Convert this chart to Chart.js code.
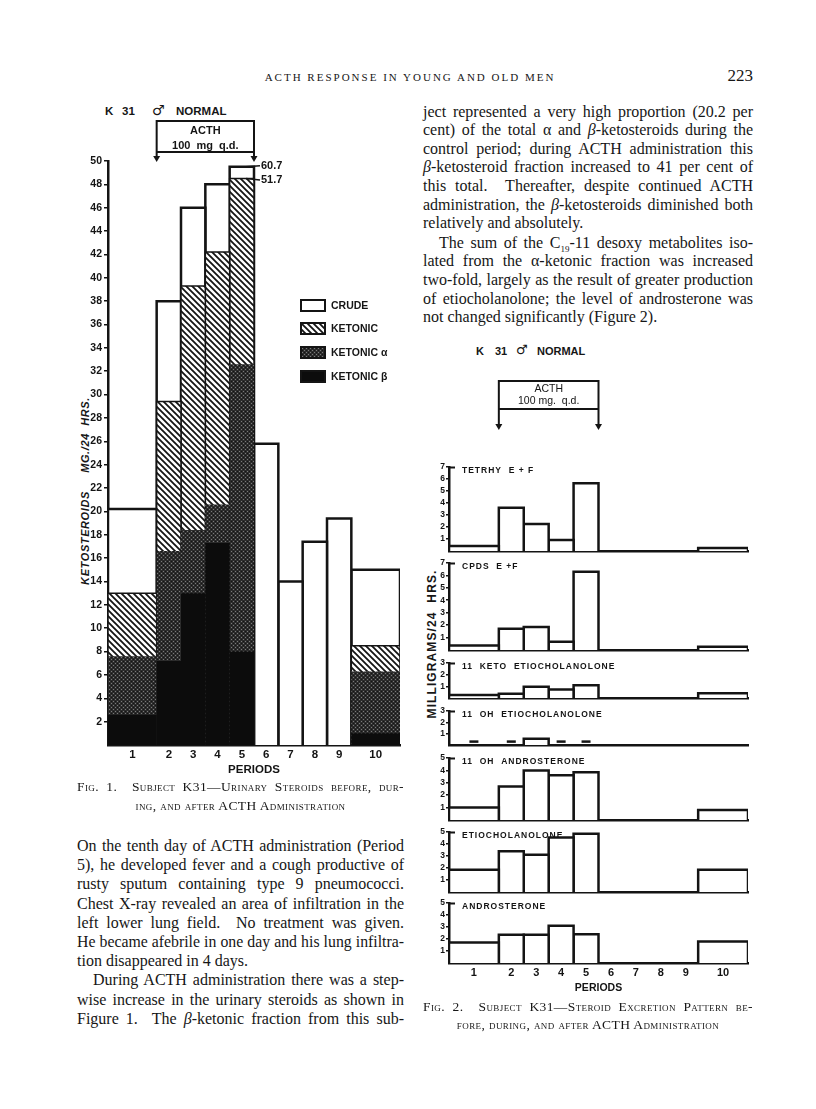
<!DOCTYPE html>
<html>
<head>
<meta charset="utf-8">
<script src="https://cdn.jsdelivr.net/npm/chart.js@4.4.1/dist/chart.umd.min.js"></script>
<style>
  html, body { margin: 0; padding: 0; background: #fff; }
  body { width: 816px; height: 1109px; position: relative; overflow: hidden; color: #161616;
         font-family: "Liberation Serif", "DejaVu Serif", serif; }
  canvas { position: absolute; }
  .tl { position: absolute; height: 20px; line-height: 20px; text-align: justify; text-align-last: justify; }
  .tl.last { text-align-last: left; }
  .tl.center { text-align: center; text-align-last: center; }
  .cap { font-variant: small-caps; letter-spacing: 0.4px; }
  .sub { font-size: 9px; position: relative; top: 4px; line-height: 0; }
  .sans { position: absolute; font-family: "Liberation Sans", "DejaVu Sans", sans-serif; font-weight: bold;
          white-space: nowrap; line-height: 14px; height: 14px; }
  .male { font-family: "DejaVu Sans", sans-serif; }
  .vtitle { position: absolute; text-align: center; transform: rotate(-90deg); white-space: nowrap;
            font-family: "Liberation Sans", "DejaVu Sans", sans-serif; font-weight: bold; line-height: 14px; height: 14px; }
  .legend-row { position: absolute; left: 300px; height: 14px; }
  .legend-row canvas { position: absolute; left: 0; top: 0; }
  .legend-row span { position: absolute; left: 31px; top: 0; line-height: 14px; white-space: nowrap;
                     font: bold 10.5px "Liberation Sans", "DejaVu Sans", sans-serif; }
</style>
</head>
<body>

<div class="tl center cap" style="left:200px; width:420px; top:67px; font-size:11px; letter-spacing:2px; text-transform:uppercase;">ACTH Response in Young and Old Men</div>
<div class="tl" style="left:700px; width:53px; top:66px; font-size:17px; text-align:right; text-align-last:right;">223</div>

<!-- Figure 1 heading -->
<div class="sans" style="left:105px; top:104px; font-size:11.5px;">K</div>
<div class="sans" style="left:122px; top:104px; font-size:11.5px;">31</div>
<div class="sans male" style="left:152px; top:103px; font-size:14px;">♂</div>
<div class="sans" style="left:176px; top:104px; font-size:11.5px;">NORMAL</div>
<div class="vtitle" style="left:-15px; top:484px; width:200px; font-size:11px; font-style:italic; letter-spacing:0.6px;">KETOSTEROIDS&nbsp;&nbsp;&nbsp;&nbsp;&nbsp;MG./24&nbsp;&nbsp;HRS.</div>
<canvas id="fig1"></canvas>

<div class="legend-row" style="top:299px;"><canvas id="sw0" width="26" height="13"></canvas><span>CRUDE</span></div>
<div class="legend-row" style="top:322px;"><canvas id="sw1" width="26" height="13"></canvas><span>KETONIC</span></div>
<div class="legend-row" style="top:346px;"><canvas id="sw2" width="26" height="13"></canvas><span>KETONIC α</span></div>
<div class="legend-row" style="top:370px;"><canvas id="sw3" width="26" height="13"></canvas><span>KETONIC β</span></div>

<!-- Figure 2 heading -->
<div class="sans" style="left:476px; top:344px; font-size:11px;">K</div>
<div class="sans" style="left:495px; top:344px; font-size:11px;">31</div>
<div class="sans male" style="left:516px; top:343px; font-size:13px;">♂</div>
<div class="sans" style="left:537px; top:344px; font-size:11px;">NORMAL</div>
<div class="vtitle" style="left:357px; top:637px; width:150px; font-size:12px; letter-spacing:1.1px;">MILLIGRAMS/24&nbsp;&nbsp;HRS.</div>
<div id="fig2"></div>

<script>
// ---------- data ----------
const periods = ['1', '2', '3', '4', '5', '6', '7', '8', '9', '10'];
// periods 1 and 10 (control periods) last twice as long as the others
const periodLength = [2, 1, 1, 1, 1, 1, 1, 1, 1, 2];

// Fig. 1, ketosteroids mg/24 hrs
const crude    = [20.2, 38.0, 46.0, 48.0, 60.7, 25.8, 14.0, 17.4, 19.4, 15.0];
const ketonic  = [13.0, 29.4, 39.3, 42.2, 51.7, null, null, null, null, 8.5];
const ketonicA = [7.6, 16.6, 18.4, 20.6, 32.6, null, null, null, null, 6.3];
const ketonicB = [2.6, 7.2, 13.0, 17.3, 8.0, null, null, null, null, 1.0];

// Fig. 2, milligrams/24 hrs
const tetrahydroEF   = [0.4, 3.6, 2.25, 0.9, 5.65, null, null, null, null, 0.25];
const compoundsEF    = [0.35, 1.7, 1.85, 0.65, 6.3, null, null, null, null, 0.25];
const ketoEtio11     = [0.25, 0.35, 0.95, 0.72, 1.08, null, null, null, null, 0.4];
const ohEtio11       = [null, null, 0.55, null, null, null, null, null, null, null];
const ohEtio11Trace  = [0.3, 0.3, null, 0.3, 0.3, null, null, null, null, null];
const ohAndro11      = [1.0, 2.7, 4.0, 3.6, 3.85, null, null, null, null, 0.8];
const etiocholanolone = [1.85, 3.4, 3.1, 4.55, 4.85, null, null, null, null, 1.85];
const androsterone   = [1.7, 2.35, 2.35, 3.1, 2.4, null, null, null, null, 1.8];

// period edges / centres on the x scale
const edges = [0];
periodLength.forEach(w => edges.push(edges[edges.length - 1] + w));
const centers = periodLength.map((w, i) => edges[i] + w / 2);

const INK = '#141414';
const SANS = '"Liberation Sans", "DejaVu Sans", sans-serif';
Chart.defaults.font.family = SANS;
Chart.defaults.color = INK;

// ---------- fills ----------
function hatchTile() {
  const c = document.createElement('canvas'); c.width = 6; c.height = 6;
  const g = c.getContext('2d');
  g.fillStyle = '#fff'; g.fillRect(0, 0, 6, 6);
  g.strokeStyle = INK; g.lineWidth = 1.8;
  g.beginPath();
  g.moveTo(-3, -3); g.lineTo(9, 9);
  g.moveTo(-3, 3); g.lineTo(3, 9);
  g.moveTo(3, -3); g.lineTo(9, 3);
  g.stroke();
  return c;
}
function stippleTile() {
  const c = document.createElement('canvas'); c.width = 4; c.height = 4;
  const g = c.getContext('2d');
  g.fillStyle = '#2c2c2c'; g.fillRect(0, 0, 4, 4);
  g.fillStyle = '#7a7a7a'; g.fillRect(0, 0, 1, 1); g.fillRect(2, 2, 1, 1);
  g.fillStyle = '#141414'; g.fillRect(2, 0, 1, 1); g.fillRect(0, 2, 1, 1);
  return c;
}

// each period becomes a rectangle outline through the chart's scales
function barSets(values, style, capAt) {
  const sets = [];
  values.forEach((v, i) => {
    if (v == null) return;
    const h = capAt ? Math.min(v, capAt) : v;
    sets.push(Object.assign({
      data: [{x: edges[i], y: 0}, {x: edges[i], y: h}, {x: edges[i + 1], y: h}, {x: edges[i + 1], y: 0}],
      showLine: true, pointRadius: 0, pointHitRadius: 0, fill: 'shape',
      borderJoinStyle: 'miter', tension: 0
    }, style));
  });
  return sets;
}

// ---------- plugins ----------
const acthBracket = {
  id: 'acthBracket',
  afterDraw(chart, args, o) {
    const {ctx, chartArea} = chart;
    const xs = chart.scales.x;
    const x0 = xs.getPixelForValue(edges[o.from]);
    const x1 = xs.getPixelForValue(edges[o.to + 1]);
    const t = chartArea.top;
    ctx.save();
    ctx.strokeStyle = INK; ctx.fillStyle = INK; ctx.lineWidth = o.lineWidth;
    ctx.beginPath();
    ctx.moveTo(x0, t + o.tip - o.head); ctx.lineTo(x0, t + o.boxTop);
    ctx.lineTo(x1, t + o.boxTop); ctx.lineTo(x1, t + o.tip - o.head);
    ctx.moveTo(x0, t + o.boxBottom); ctx.lineTo(x1, t + o.boxBottom);
    ctx.stroke();
    [x0, x1].forEach(x => {
      ctx.beginPath();
      ctx.moveTo(x - 3.5, t + o.tip - o.head); ctx.lineTo(x + 3.5, t + o.tip - o.head);
      ctx.lineTo(x, t + o.tip); ctx.closePath(); ctx.fill();
    });
    ctx.font = o.font; ctx.textAlign = 'center'; ctx.textBaseline = 'middle';
    ctx.fillText(o.line1, (x0 + x1) / 2, t + o.text1);
    ctx.fillText(o.line2, (x0 + x1) / 2, t + o.text2);
    ctx.restore();
  }
};

const breakNotes = {
  id: 'breakNotes',
  afterDraw(chart, args, o) {
    const {ctx} = chart;
    const xs = chart.scales.x, ys = chart.scales.y;
    ctx.save();
    ctx.strokeStyle = INK; ctx.fillStyle = INK; ctx.lineWidth = 1.5;
    ctx.font = 'bold 11px ' + SANS; ctx.textBaseline = 'middle';
    o.items.forEach(it => {
      const xr = xs.getPixelForValue(edges[it.index + 1]);
      const y = ys.getPixelForValue(it.shownAt);
      ctx.beginPath(); ctx.moveTo(xr - 8, y); ctx.lineTo(xr + 6, y + it.dy); ctx.stroke();
      ctx.fillText(it.value.toFixed(1), xr + 7, y + it.dy);
    });
    ctx.restore();
  }
};

const panelDecor = {
  id: 'panelDecor',
  afterDraw(chart, args, o) {
    const {ctx, chartArea: a} = chart;
    ctx.save();
    ctx.strokeStyle = INK; ctx.lineWidth = 2;
    ctx.beginPath(); ctx.moveTo(a.left, a.top + 0.5); ctx.lineTo(a.left + 6, a.top + 0.5); ctx.stroke();
    ctx.fillStyle = INK; ctx.font = 'bold 8.5px ' + SANS; ctx.textBaseline = 'middle';
    if ('letterSpacing' in ctx) ctx.letterSpacing = '1px';
    ctx.fillText(o.label, a.left + 13, a.top + 4);
    ctx.restore();
  }
};

// ---------- Figure 1 ----------
const fig1 = document.getElementById('fig1');
fig1.width = 355; fig1.height = 690;
fig1.style.left = '55px'; fig1.style.top = '95px';
const c1 = fig1.getContext('2d');
const hatch = c1.createPattern(hatchTile(), 'repeat');
const stipple = c1.createPattern(stippleTile(), 'repeat');
const breakTop = {crude: 49.5, ketonic: 48.5};   // broken bars stop below the 50 line

const fig1Sets = [].concat(
  barSets(crude,    {order: 4, backgroundColor: '#fff', borderColor: INK, borderWidth: 2.5}, breakTop.crude),
  barSets(ketonic,  {order: 3, backgroundColor: hatch, borderColor: INK, borderWidth: 1.5}, breakTop.ketonic),
  barSets(ketonicA, {order: 2, backgroundColor: stipple, borderColor: 'rgba(0,0,0,0)', borderWidth: 0}),
  barSets(ketonicB, {order: 1, backgroundColor: '#0c0c0c', borderColor: 'rgba(0,0,0,0)', borderWidth: 0})
);

new Chart(fig1, {
  type: 'scatter',
  data: {datasets: fig1Sets},
  plugins: [acthBracket, breakNotes],
  options: {
    responsive: false, animation: false, devicePixelRatio: 1,
    events: [],
    layout: {padding: {top: 66, right: 10, left: 0, bottom: 0}},
    plugins: {
      legend: {display: false}, tooltip: {enabled: false},
      acthBracket: {from: 1, to: 4, lineWidth: 2, boxTop: -40, boxBottom: -9, tip: 1, head: 6,
                    text1: -30, text2: -15, line1: 'ACTH', line2: '100  mg  q.d.', font: 'bold 11px ' + SANS},
      breakNotes: {items: [
        {index: 4, value: crude[4], shownAt: breakTop.crude, dy: -1},
        {index: 4, value: ketonic[4], shownAt: breakTop.ketonic, dy: 1.5}
      ]}
    },
    scales: {
      x: {
        type: 'linear', min: 0, max: edges[edges.length - 1],
        afterBuildTicks: s => { s.ticks = centers.map(v => ({value: v})); },
        afterFit: s => { s.height = 40; },
        ticks: {autoSkip: false, maxRotation: 0, padding: 3, color: INK,
                font: {size: 11.5, weight: 'bold'}, callback: (v, i) => periods[i]},
        grid: {display: false, drawTicks: false},
        border: {display: true, width: 2.5, color: INK},
        title: {display: true, text: 'PERIODS', color: INK, font: {size: 11.5, weight: 'bold'},
                padding: {top: 0, bottom: 8}}
      },
      y: {
        min: 0, max: 50,
        afterBuildTicks: s => { s.ticks = s.ticks.filter(t => t.value > 0); },
        afterFit: s => { s.width = 53; },
        ticks: {stepSize: 2, padding: 2, color: INK, font: {size: 10.5, weight: 'bold'}},
        grid: {drawOnChartArea: false, drawTicks: true, tickLength: 4, color: INK, lineWidth: 1.5},
        border: {display: true, width: 2.5, color: INK}
      }
    }
  }
});

// legend swatches use the same fills
['#fff', 'hatch', 'stipple', '#0c0c0c'].forEach((fill, i) => {
  const g = document.getElementById('sw' + i).getContext('2d');
  g.fillStyle = fill === 'hatch' ? g.createPattern(hatchTile(), 'repeat')
              : fill === 'stipple' ? g.createPattern(stippleTile(), 'repeat') : fill;
  g.fillRect(0, 0, 26, 13);
  g.strokeStyle = INK; g.lineWidth = 2;
  g.strokeRect(1, 1, 24, 11);
});

// ---------- Figure 2 ----------
const panelSeries = [tetrahydroEF, compoundsEF, ketoEtio11, ohEtio11, ohAndro11, etiocholanolone, androsterone];
const panelLabels = ['TETRHY  E + F', 'CPDS  E +F', '11  KETO  ETIOCHOLANOLONE', '11  OH  ETIOCHOLANOLONE',
                     '11  OH  ANDROSTERONE', 'ETIOCHOLANOLONE', 'ANDROSTERONE'];
const panelMax = [7, 7, 3, 3, 5, 5, 5];
// panel frames on the page: top of the value axis, baseline
const panelFrame = [[467, 551], [563, 650], [663, 698], [711, 746], [758, 820], [832, 892], [903, 963]];

const fig2 = document.getElementById('fig2');
panelSeries.forEach((series, p) => {
  const first = p === 0, last = p === panelSeries.length - 1;
  const [top, bottom] = panelFrame[p];
  const padTop = first ? 100 : 8;
  const xh = last ? 32 : 6;
  const cv = document.createElement('canvas');
  cv.width = 355; cv.height = padTop + (bottom - top) + xh;
  cv.style.left = '405px'; cv.style.top = (top - padTop) + 'px';
  fig2.appendChild(cv);

  const sets = barSets(series, {backgroundColor: '#fff', borderColor: INK, borderWidth: 2.5});
  if (series === ohEtio11) {
    sets.push({
      data: ohEtio11Trace.map((v, i) => v == null ? null : {x: centers[i], y: v}).filter(d => d),
      showLine: false, pointStyle: 'line', pointRadius: 4.5, pointBorderWidth: 2.5,
      borderColor: INK, backgroundColor: INK
    });
  }

  const plugins = {legend: {display: false}, tooltip: {enabled: false}, panelDecor: {label: panelLabels[p]}};
  if (first) {
    plugins.acthBracket = {from: 1, to: 4, lineWidth: 2, boxTop: -86, boxBottom: -58, tip: -37, head: 6,
                           text1: -77.5, text2: -65.5, line1: 'ACTH', line2: '100 mg.  q.d.', font: '10.5px ' + SANS};
  }

  new Chart(cv, {
    type: 'scatter',
    data: {datasets: sets},
    plugins: first ? [panelDecor, acthBracket] : [panelDecor],
    options: {
      responsive: false, animation: false, devicePixelRatio: 1,
      events: [],
      layout: {padding: {top: padTop, right: 12, left: 0, bottom: 0}},
      plugins: plugins,
      scales: {
        x: {
          type: 'linear', min: 0, max: edges[edges.length - 1],
          afterBuildTicks: s => { s.ticks = centers.map(v => ({value: v})); },
          afterFit: s => { s.height = xh; },
          ticks: {display: last, autoSkip: false, maxRotation: 0, padding: 3, color: INK,
                  font: {size: 11, weight: 'bold'}, callback: (v, i) => periods[i]},
          grid: {display: false, drawTicks: false},
          border: {display: true, width: 2.5, color: INK},
          title: {display: last, text: 'PERIODS', color: INK, font: {size: 10.5, weight: 'bold'},
                  padding: {top: 0, bottom: 1}}
        },
        y: {
          min: 0, max: panelMax[p],
          afterBuildTicks: s => { s.ticks = s.ticks.filter(t => t.value > 0); },
          afterFit: s => { s.width = 44; },
          ticks: {stepSize: 1, padding: 1, color: INK, font: {size: 8.5, weight: 'bold'}},
          grid: {drawOnChartArea: false, drawTicks: true, tickLength: 3, color: INK, lineWidth: 1.5},
          border: {display: true, width: 2.5, color: INK}
        }
      }
    }
  });
});

// ---------- text columns ----------
const rightLines = [
  {t: 'ject represented a very high proportion (20.2 per'},
  {t: 'cent) of the total α and <i>β</i>-ketosteroids during the'},
  {t: 'control period; during ACTH administration this'},
  {t: '<i>β</i>-ketosteroid fraction increased to 41 per cent of'},
  {t: 'this total.&nbsp; Thereafter, despite continued ACTH'},
  {t: 'administration, the <i>β</i>-ketosteroids diminished both'},
  {t: 'relatively and absolutely.', last: true},
  {t: 'The sum of the C<span class="sub">19</span>-11 desoxy metabolites iso-', indent: true, gap: 1},
  {t: 'lated from the α-ketonic fraction was increased', gap: 1},
  {t: 'two-fold, largely as the result of greater production', gap: 1},
  {t: 'of etiocholanolone; the level of androsterone was', gap: 1},
  {t: 'not changed significantly (Figure 2).', last: true, gap: 1}
];
const leftLines = [
  {t: 'On the tenth day of ACTH administration (Period'},
  {t: '5), he developed fever and a cough productive of'},
  {t: 'rusty sputum containing type 9 pneumococci.'},
  {t: 'Chest X-ray revealed an area of infiltration in the'},
  {t: 'left lower lung field.&nbsp; No treatment was given.'},
  {t: 'He became afebrile in one day and his lung infiltra-'},
  {t: 'tion disappeared in 4 days.', last: true},
  {t: 'During ACTH administration there was a step-', indent: true},
  {t: 'wise increase in the urinary steroids as shown in'},
  {t: 'Figure 1.&nbsp; The <i>β</i>-ketonic fraction from this sub-'}
];

function placeLines(lines, x, w, y0, lh, size, extraClass) {
  lines.forEach((ln, i) => {
    const d = document.createElement('div');
    d.className = 'tl' + (ln.last ? ' last' : '') + (extraClass ? ' ' + extraClass : '');
    d.innerHTML = ln.t;
    const ind = ln.indent ? 16 : 0;
    d.style.left = (x + ind) + 'px';
    d.style.width = (w - ind) + 'px';
    d.style.top = (y0 + i * lh + (ln.gap || 0) - 10) + 'px';
    d.style.fontSize = size + 'px';
    document.body.appendChild(d);
    // only shrink when the line would really wrap onto a second row
    let fs = size;
    while (d.scrollHeight > 34 && fs > 11) { fs -= 0.2; d.style.fontSize = fs + 'px'; }
  });
}

placeLines(rightLines, 423, 330, 111.5, 18.6, 16);
placeLines(leftLines, 77, 327, 846, 19.2, 16);

placeLines([{t: 'Fig. 1.&nbsp; Subject K31—Urinary Steroids before, dur-'}], 77, 327, 787, 18, 13.5, 'cap');
placeLines([{t: 'ing, and after ACTH Administration'}], 77, 327, 806, 18, 13.5, 'cap center');
placeLines([{t: 'Fig. 2.&nbsp; Subject K31—Steroid Excretion Pattern be-'}], 423, 330, 1007, 18, 13.5, 'cap');
placeLines([{t: 'fore, during, and after ACTH Administration'}], 423, 330, 1025, 18, 13.5, 'cap center');
</script>
</body>
</html>
